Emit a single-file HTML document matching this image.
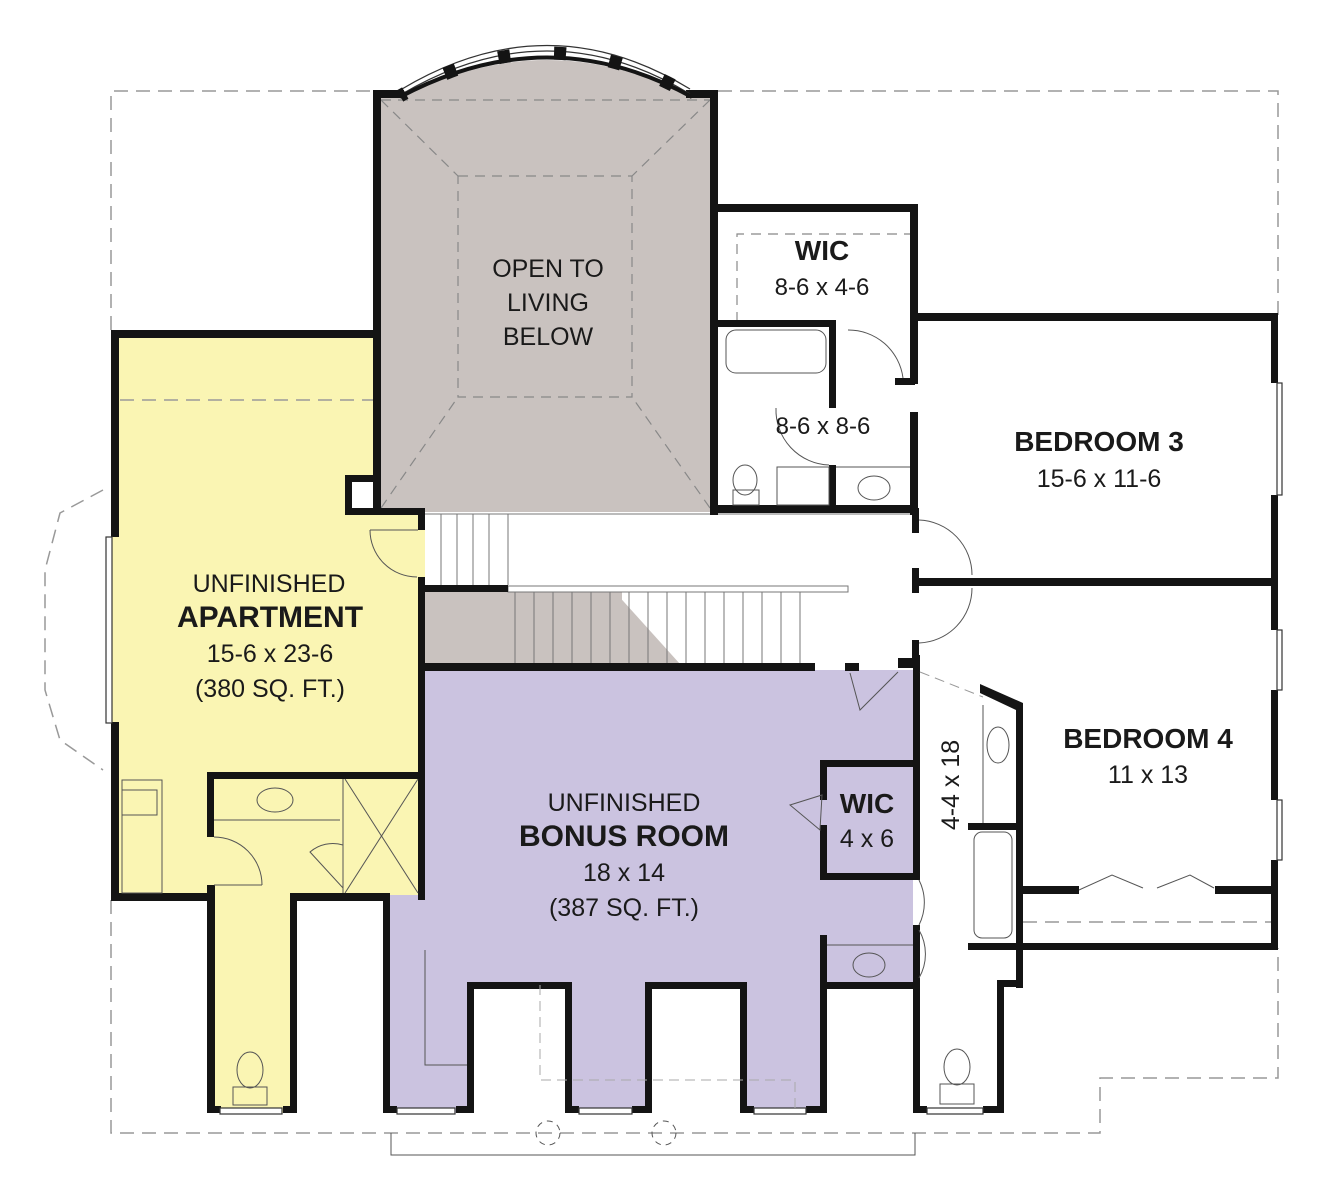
<!DOCTYPE html>
<html><head><meta charset="utf-8"><style>
html,body{margin:0;padding:0;background:#fff;}
svg{display:block}
text{font-family:"Liberation Sans",sans-serif;fill:#1a1a1a;text-anchor:middle}
.b{font-weight:bold}
</style></head><body>
<svg width="1326" height="1200" viewBox="0 0 1326 1200" xmlns="http://www.w3.org/2000/svg">
<g fill="none" stroke="#999" stroke-width="1.5" stroke-dasharray="14,8">
<polyline points="111,330 111,91 373,91"/>
<polyline points="718,91 1278,91 1278,315"/>
<polyline points="111,900 111,1133 1100,1133 1100,1078 1278,1078 1278,948"/>
<polyline points="103,490 60,513 45,570 45,690 60,740 103,770"/>
<polyline points="1023,922 1272,922"/>
</g>
<rect x="111" y="330" width="314" height="565" fill="#faf5b3"/>
<rect x="207" y="775" width="90" height="338" fill="#faf5b3"/>
<rect x="373" y="91" width="345" height="421" fill="#c9c2bf"/>
<path d="M400,98 Q548,22 692,98 Z" fill="#c9c2bf"/>
<rect x="425" y="512" width="490" height="80" fill="#fff"/>
<rect x="345" y="475" width="36" height="37" fill="#fff"/>
<g fill="none" stroke="#999" stroke-width="1.5" stroke-dasharray="14,8"><line x1="120" y1="400" x2="373" y2="400"/></g>
<polygon points="422,670 913,670 913,985 820,985 820,1113 740,1113 740,985 645,985 645,1113 565,1113 565,985 470,985 470,1113 387,1113 387,895 422,895" fill="#cbc3e0"/>
<rect x="422" y="592" width="200" height="72" fill="#c9c2bf"/>
<polygon points="615,592 680,664 615,664" fill="#c9c2bf"/>
<g fill="none" stroke="#888" stroke-width="1.2" stroke-dasharray="10,7">
<line x1="381" y1="100" x2="710" y2="100"/>
<rect x="458" y="176" width="174" height="221"/>
<line x1="381" y1="100" x2="458" y2="176"/><line x1="710" y1="100" x2="632" y2="176"/>
<line x1="381" y1="508" x2="458" y2="397"/><line x1="710" y1="508" x2="632" y2="397"/>
<polyline points="737,322 737,234 912,234"/>
</g>
<g stroke="#777" stroke-width="1" fill="none">
<line x1="425" y1="514" x2="912" y2="514"/>
<line x1="441" y1="514" x2="441" y2="585"/><line x1="457" y1="514" x2="457" y2="585"/><line x1="473" y1="514" x2="473" y2="585"/><line x1="489" y1="514" x2="489" y2="585"/><line x1="508" y1="514" x2="508" y2="585"/>
<rect x="508" y="586" width="340" height="6"/>
</g>
<g stroke="#777" stroke-width="1">
<line x1="534" y1="592" x2="534" y2="664"/><line x1="553" y1="592" x2="553" y2="664"/><line x1="572" y1="592" x2="572" y2="664"/><line x1="591" y1="592" x2="591" y2="664"/><line x1="610" y1="592" x2="610" y2="664"/><line x1="629" y1="592" x2="629" y2="664"/><line x1="648" y1="592" x2="648" y2="664"/><line x1="667" y1="592" x2="667" y2="664"/><line x1="686" y1="592" x2="686" y2="664"/><line x1="705" y1="592" x2="705" y2="664"/><line x1="724" y1="592" x2="724" y2="664"/><line x1="743" y1="592" x2="743" y2="664"/><line x1="762" y1="592" x2="762" y2="664"/><line x1="781" y1="592" x2="781" y2="664"/><line x1="800" y1="592" x2="800" y2="664"/><line x1="515" y1="592" x2="515" y2="664"/>
</g>
<g fill="#141414">
<rect x="373" y="90" width="31" height="8"/><rect x="686" y="90" width="32" height="8"/>
<rect x="373" y="90" width="8" height="422"/><rect x="710" y="90" width="8" height="425"/>
<rect x="345" y="475" width="36" height="7"/><rect x="345" y="475" width="7" height="40"/><rect x="345" y="508" width="80" height="7"/>
<rect x="111" y="330" width="270" height="8"/><rect x="111" y="330" width="8" height="207"/><rect x="111" y="722" width="8" height="178"/>
<rect x="111" y="893" width="104" height="8"/><rect x="290" y="893" width="100" height="8"/>
<rect x="418" y="508" width="7" height="22"/><rect x="418" y="577" width="7" height="323"/>
<rect x="207" y="772" width="218" height="7"/><rect x="207" y="772" width="7" height="65"/><rect x="207" y="885" width="8" height="228"/>
<rect x="290" y="893" width="7" height="220"/><rect x="207" y="1106" width="14" height="7"/><rect x="283" y="1106" width="14" height="7"/>
<rect x="422" y="585" width="86" height="7"/><rect x="418" y="663" width="397" height="8"/>
<rect x="383" y="895" width="7" height="218"/><rect x="383" y="1106" width="14" height="7"/><rect x="456" y="1106" width="17" height="7"/>
<rect x="467" y="982" width="7" height="131"/><rect x="467" y="982" width="105" height="7"/><rect x="565" y="982" width="7" height="131"/><rect x="565" y="1106" width="14" height="7"/><rect x="632" y="1106" width="20" height="7"/>
<rect x="645" y="982" width="7" height="131"/><rect x="645" y="982" width="102" height="7"/><rect x="740" y="982" width="7" height="131"/><rect x="740" y="1106" width="14" height="7"/><rect x="806" y="1106" width="20" height="7"/>
<rect x="820" y="982" width="7" height="131"/><rect x="820" y="982" width="100" height="7"/>
<rect x="820" y="760" width="100" height="7"/><rect x="820" y="760" width="7" height="40"/><rect x="820" y="825" width="7" height="55"/><rect x="820" y="873" width="100" height="7"/><rect x="820" y="935" width="7" height="50"/>
<rect x="845" y="663" width="14" height="8"/><rect x="898" y="658" width="22" height="10"/>
<rect x="913" y="655" width="7" height="225"/><rect x="913" y="925" width="7" height="188"/><rect x="913" y="1106" width="14" height="7"/><rect x="983" y="1106" width="20" height="7"/>
<rect x="997" y="985" width="7" height="128"/><rect x="997" y="980" width="26" height="7"/>
<polygon points="980,684 1023,703 1023,988 1016,988 1016,710 980,693"/>
<rect x="968" y="823" width="55" height="7"/><rect x="968" y="943" width="310" height="7"/>
<rect x="1023" y="886" width="56" height="8"/><rect x="1215" y="886" width="63" height="8"/>
<rect x="913" y="313" width="365" height="8"/><rect x="1271" y="313" width="7" height="70"/><rect x="1271" y="495" width="7" height="135"/><rect x="1271" y="690" width="7" height="110"/><rect x="1271" y="860" width="7" height="90"/>
<rect x="913" y="578" width="365" height="8"/>
<rect x="912" y="508" width="7" height="25"/><rect x="912" y="568" width="7" height="25"/><rect x="912" y="640" width="7" height="25"/>
<rect x="718" y="204" width="200" height="8"/><rect x="910" y="204" width="8" height="180"/><rect x="910" y="412" width="8" height="103"/>
<rect x="718" y="320" width="118" height="7"/><rect x="829" y="320" width="7" height="88"/><rect x="829" y="465" width="7" height="48"/><rect x="718" y="505" width="200" height="8"/>
<rect x="895" y="378" width="20" height="7"/>
</g>
<g fill="#fff" stroke="#333" stroke-width="1.2">
<rect x="106" y="537" width="6" height="186"/>
<rect x="1277" y="383" width="5" height="112"/><rect x="1277" y="630" width="5" height="60"/><rect x="1277" y="800" width="5" height="60"/>
<rect x="220" y="1108" width="62" height="6"/><rect x="397" y="1108" width="58" height="6"/><rect x="579" y="1108" width="53" height="6"/><rect x="754" y="1108" width="52" height="6"/><rect x="927" y="1108" width="56" height="6"/>
</g>
<!-- bay window -->
<path d="M402,94 Q548,8 690,94" fill="none" stroke="#333" stroke-width="1.3"/>
<path d="M402,89 Q548,2 690,89" fill="none" stroke="#333" stroke-width="1.3"/>
<path d="M400,97 Q548,18 692,97" fill="none" stroke="#141414" stroke-width="4"/>
<path d="M400,96 Q548,10 692,96" fill="none" stroke="#141414" stroke-width="13" stroke-dasharray="12,44" stroke-dashoffset="6"/>
<g fill="none" stroke="#555" stroke-width="1">
<path d="M370,530 A47,47 0 0 0 417,577"/><line x1="370" y1="530" x2="418" y2="530"/>
<path d="M214,837 A48,48 0 0 1 262,885"/><line x1="214" y1="885" x2="262" y2="885"/>
<path d="M919,520 A55,55 0 0 1 972,575"/><path d="M919,643 A55,55 0 0 0 972,588"/>
<path d="M919,880 A50,50 0 0 1 919,925"/><path d="M919,930 A48,48 0 0 1 919,978"/>
<path d="M848,330 A55,55 0 0 1 903,378"/><path d="M776,408 A55,55 0 0 0 829,465"/>
<path d="M850,673 L860,710 L898,672"/>
<path d="M790,805 L822,795 L820,830 Z"/>
<rect x="726" y="330" width="100" height="43" rx="10"/>
<ellipse cx="745" cy="480" rx="12" ry="15"/><rect x="733" y="490" width="26" height="15"/>
<rect x="777" y="467" width="52" height="38"/>
<ellipse cx="874" cy="488" rx="16" ry="12"/><line x1="836" y1="467" x2="910" y2="467"/>
<ellipse cx="275" cy="800" rx="18" ry="12"/><line x1="214" y1="820" x2="340" y2="820"/>
<rect x="122" y="780" width="40" height="113"/><rect x="122" y="790" width="35" height="25"/>
<line x1="345" y1="779" x2="418" y2="893"/><line x1="418" y1="779" x2="345" y2="893"/><line x1="343" y1="779" x2="343" y2="893"/>
<path d="M310,852 A35,35 0 0 1 343,845 L343,888 Z"/>
<ellipse cx="250" cy="1070" rx="13" ry="18"/><rect x="233" y="1087" width="34" height="18"/>
<ellipse cx="957" cy="1067" rx="13" ry="18"/><rect x="940" y="1084" width="34" height="20"/>
<ellipse cx="869" cy="965" rx="16" ry="12"/><line x1="827" y1="945" x2="913" y2="945"/>
<ellipse cx="998" cy="745" rx="11" ry="18"/><line x1="983" y1="705" x2="983" y2="823"/>
<rect x="974" y="832" width="38" height="106" rx="8"/>
<path d="M1079,890 L1112,875 L1143,888 M1157,888 L1190,875 L1214,888"/>
<polyline points="391,1133 391,1155 915,1155 915,1133"/>
<ellipse cx="548" cy="1133" rx="12" ry="12" stroke-dasharray="6,5"/><ellipse cx="664" cy="1133" rx="12" ry="12" stroke-dasharray="6,5"/>
<polyline points="540,985 540,1080 795,1080 795,1110" stroke="#aaa" stroke-dasharray="10,6"/>
<polyline points="425,950 425,1065 467,1065"/>
</g>
<g stroke="#999" fill="none" stroke-dasharray="10,6"><line x1="920" y1="672" x2="983" y2="697"/></g>
<text x="548" y="277" font-size="25">OPEN TO</text>
<text x="548" y="311" font-size="25">LIVING</text>
<text x="548" y="345" font-size="25">BELOW</text>
<text x="822" y="260" font-size="28" class="b">WIC</text>
<text x="822" y="295" font-size="24">8-6 x 4-6</text>
<text x="823" y="434" font-size="24">8-6 x 8-6</text>
<text x="1099" y="451" font-size="28" class="b">BEDROOM 3</text>
<text x="1099" y="487" font-size="25">15-6 x 11-6</text>
<text x="269" y="592" font-size="25">UNFINISHED</text>
<text x="270" y="627" font-size="30" class="b">APARTMENT</text>
<text x="270" y="662" font-size="25">15-6 x 23-6</text>
<text x="270" y="697" font-size="25">(380 SQ. FT.)</text>
<text x="624" y="811" font-size="25">UNFINISHED</text>
<text x="624" y="846" font-size="30" class="b">BONUS ROOM</text>
<text x="624" y="881" font-size="25">18 x 14</text>
<text x="624" y="916" font-size="25">(387 SQ. FT.)</text>
<text x="867" y="813" font-size="28" class="b">WIC</text>
<text x="867" y="847" font-size="25">4 x 6</text>
<text x="1148" y="748" font-size="28" class="b">BEDROOM 4</text>
<text x="1148" y="783" font-size="25">11 x 13</text>
<text x="0" y="0" font-size="25" transform="translate(959,785) rotate(-90)">4-4 x 18</text>
</svg>
</body></html>
